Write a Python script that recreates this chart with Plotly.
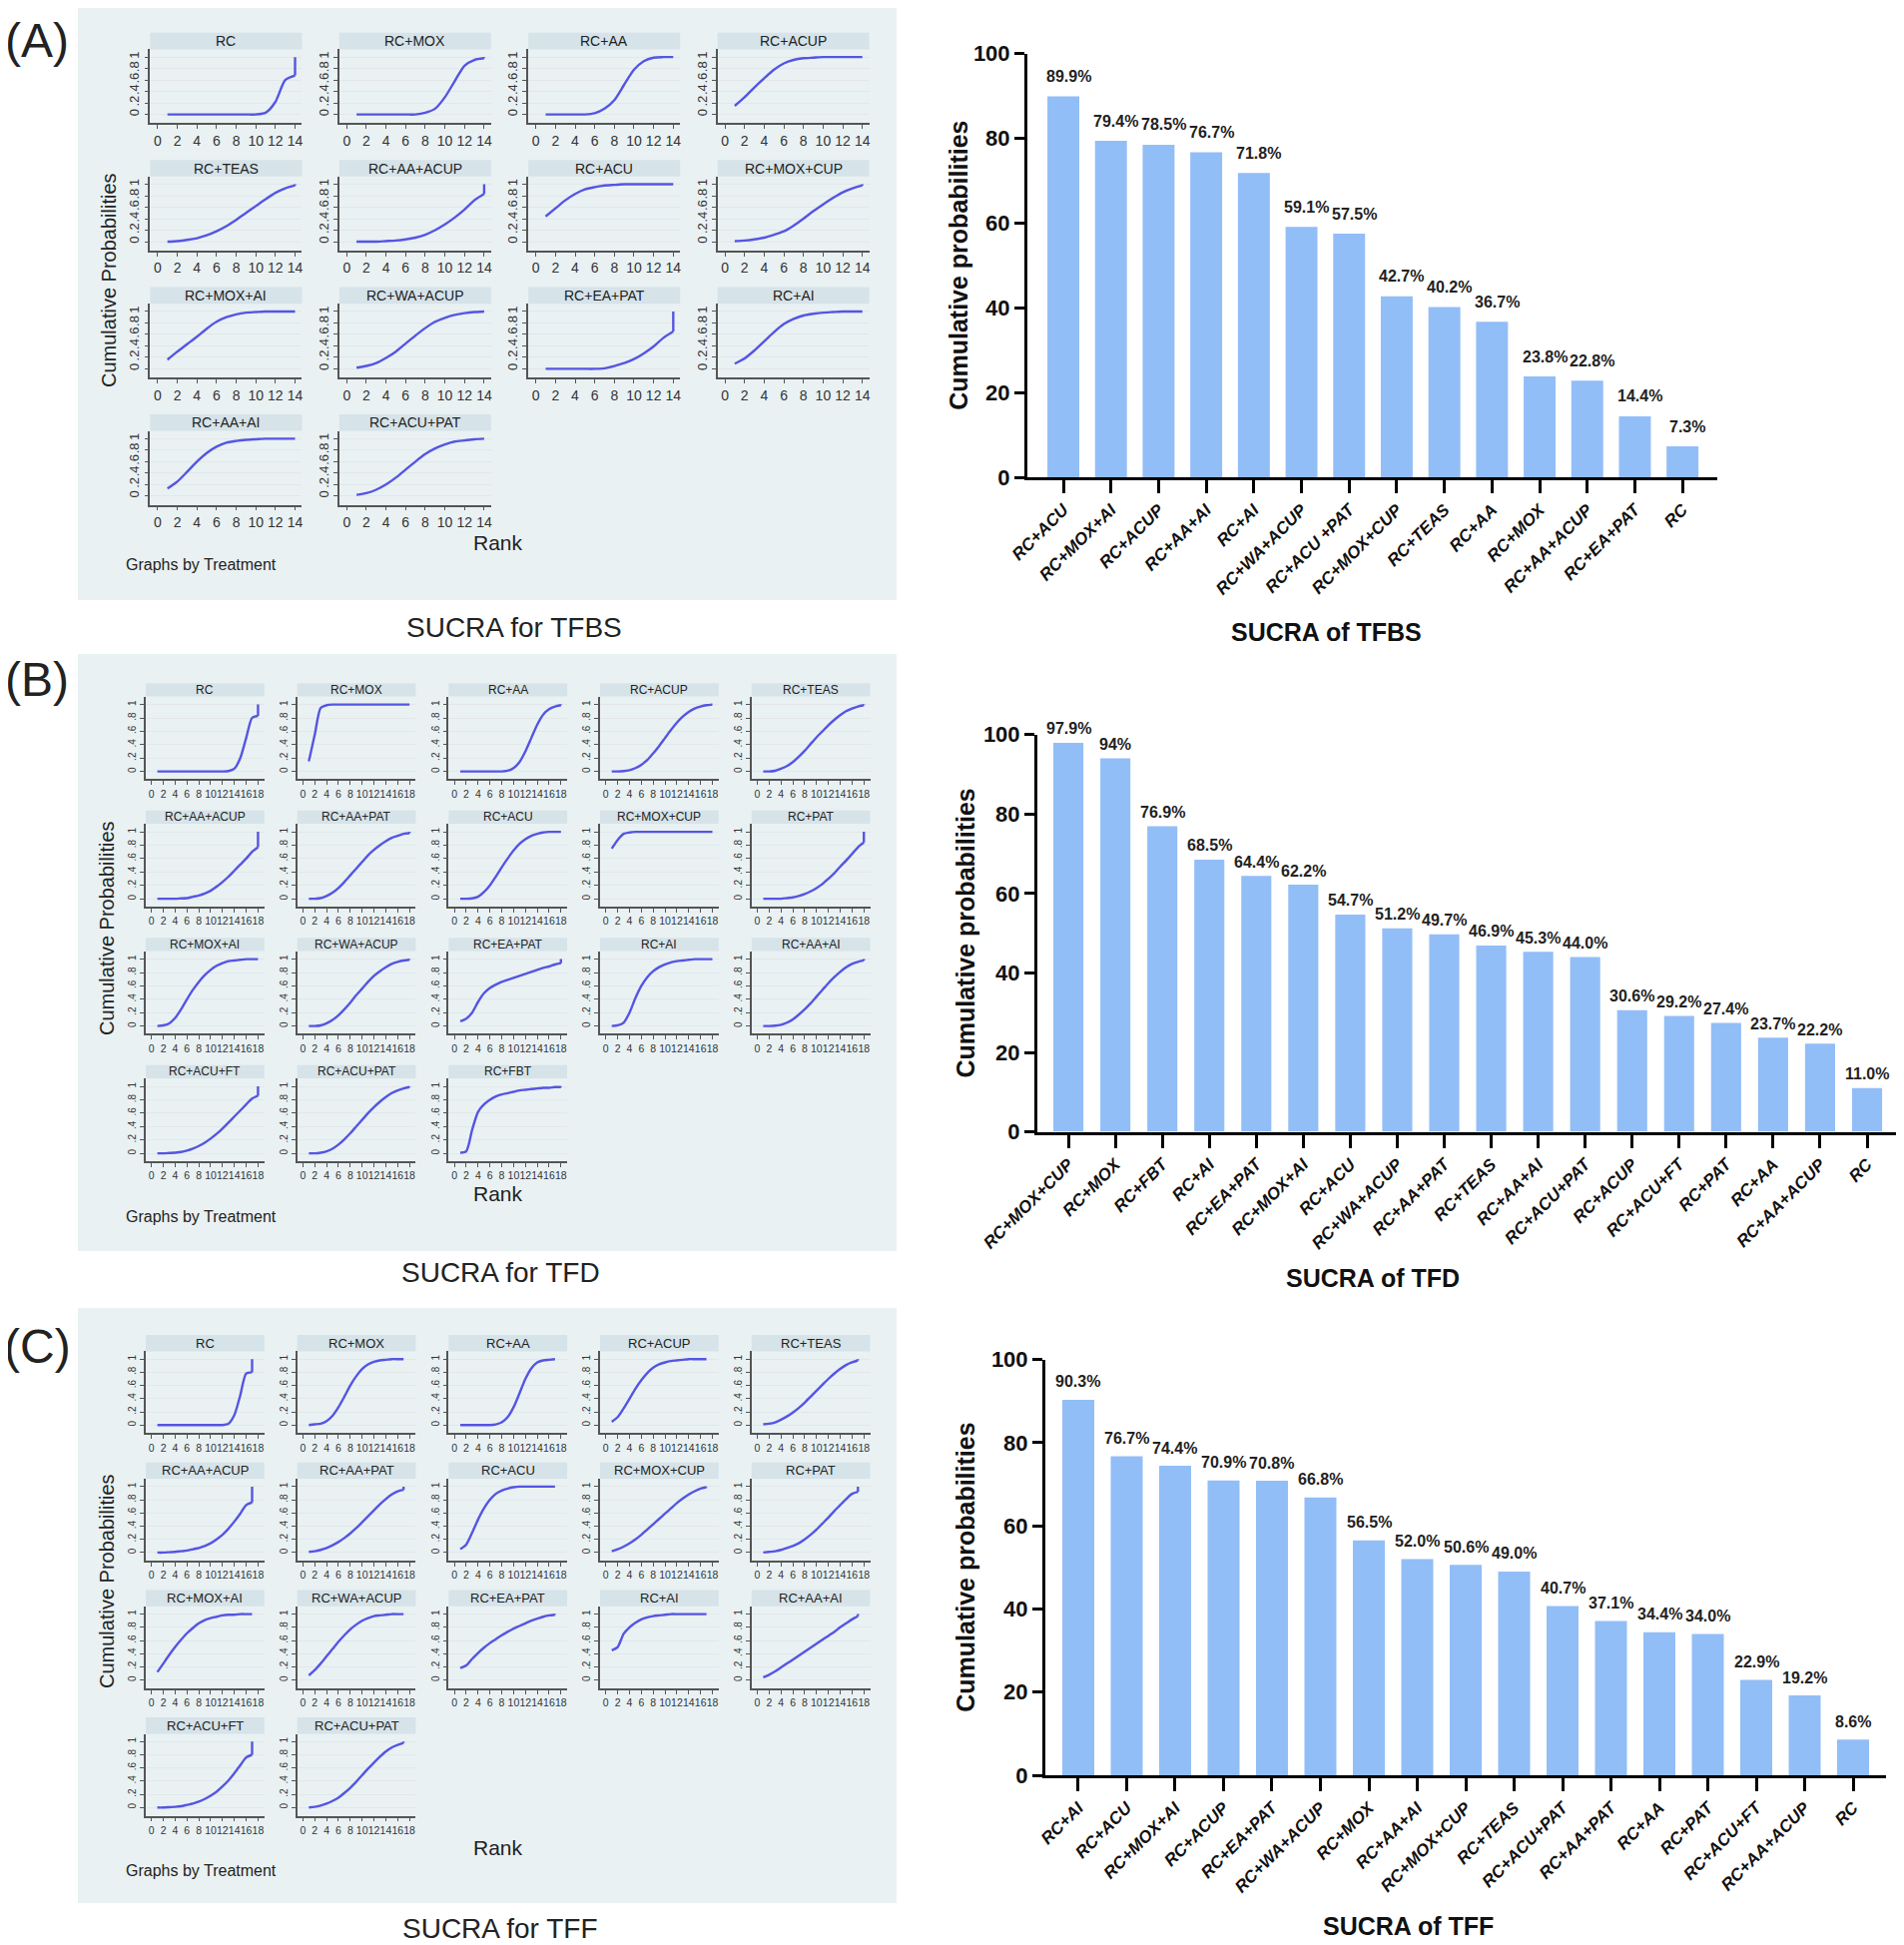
import plotly.graph_objects as go

W, H = 1907, 1948

# ---------------- DATA ----------------
ranks_tfbs = list(range(1, 15))
ranks_tfd = list(range(1, 19))
ranks_tff = list(range(1, 18))

# (A) TFBS cumulative ranking curves (rank 1..14)
tfbs_names = ["RC", "RC+MOX", "RC+AA", "RC+ACUP", "RC+TEAS", "RC+AA+ACUP", "RC+ACU",
              "RC+MOX+CUP", "RC+MOX+AI", "RC+WA+ACUP", "RC+EA+PAT", "RC+AI", "RC+AA+AI", "RC+ACU+PAT"]
tfbs_RC = [0, 0, 0, 0, 0, 0, 0, 0, 0, 0, 0.03, 0.22, 0.6, 0.68]
tfbs_MOX = [0, 0, 0, 0, 0, 0, 0, 0.03, 0.1, 0.3, 0.58, 0.85, 0.95, 0.98]
tfbs_AA = [0, 0, 0, 0, 0, 0.02, 0.1, 0.25, 0.52, 0.78, 0.93, 0.99, 1.0, 1.0]
tfbs_ACUP = [0.15, 0.3, 0.47, 0.63, 0.78, 0.89, 0.95, 0.98, 0.99, 1, 1, 1, 1, 1]
tfbs_TEAS = [0, 0.01, 0.03, 0.06, 0.11, 0.18, 0.27, 0.38, 0.5, 0.62, 0.74, 0.85, 0.93, 0.98]
tfbs_AA_ACUP = [0, 0, 0, 0.01, 0.02, 0.04, 0.07, 0.12, 0.2, 0.3, 0.42, 0.56, 0.72, 0.83]
tfbs_ACU = [0.44, 0.58, 0.72, 0.83, 0.91, 0.95, 0.98, 0.99, 1, 1, 1, 1, 1, 1]
tfbs_MOX_CUP = [0.01, 0.02, 0.04, 0.07, 0.12, 0.18, 0.28, 0.4, 0.53, 0.65, 0.76, 0.86, 0.93, 0.98]
tfbs_MOX_AI = [0.16, 0.3, 0.43, 0.56, 0.7, 0.82, 0.9, 0.95, 0.98, 0.99, 1, 1, 1, 1]
tfbs_WA_ACUP = [0.02, 0.05, 0.1, 0.19, 0.3, 0.44, 0.58, 0.71, 0.82, 0.89, 0.94, 0.97, 0.99, 1]
tfbs_EA_PAT = [0, 0, 0, 0, 0, 0, 0.01, 0.05, 0.1, 0.17, 0.27, 0.39, 0.54, 0.65]
tfbs_AI = [0.09, 0.18, 0.32, 0.48, 0.64, 0.78, 0.87, 0.93, 0.96, 0.98, 0.99, 1, 1, 1]
tfbs_AA_AI = [0.13, 0.25, 0.42, 0.6, 0.75, 0.86, 0.93, 0.96, 0.98, 0.99, 1, 1, 1, 1]
tfbs_ACU_PAT = [0.02, 0.05, 0.11, 0.2, 0.32, 0.46, 0.6, 0.73, 0.83, 0.9, 0.95, 0.97, 0.99, 1]

# (B) TFD cumulative ranking curves (rank 1..18)
tfd_names = ["RC", "RC+MOX", "RC+AA", "RC+ACUP", "RC+TEAS", "RC+AA+ACUP", "RC+AA+PAT", "RC+ACU",
             "RC+MOX+CUP", "RC+PAT", "RC+MOX+AI", "RC+WA+ACUP", "RC+EA+PAT", "RC+AI", "RC+AA+AI",
             "RC+ACU+FT", "RC+ACU+PAT", "RC+FBT"]
tfd_RC = [0, 0, 0, 0, 0, 0, 0, 0, 0, 0, 0, 0, 0.005, 0.04, 0.2, 0.5, 0.8, 0.83]
tfd_MOX = [0.15, 0.55, 0.95, 0.99, 1, 1, 1, 1, 1, 1, 1, 1, 1, 1, 1, 1, 1, 1]
tfd_AA = [0, 0, 0, 0, 0, 0, 0, 0, 0.01, 0.05, 0.14, 0.3, 0.5, 0.7, 0.85, 0.93, 0.97, 0.99]
tfd_ACUP = [0, 0, 0.005, 0.02, 0.05, 0.1, 0.17, 0.27, 0.38, 0.5, 0.62, 0.73, 0.82, 0.89, 0.94, 0.97, 0.99, 1.0]
tfd_TEAS = [0, 0, 0.01, 0.04, 0.08, 0.14, 0.22, 0.31, 0.41, 0.51, 0.6, 0.69, 0.77, 0.84, 0.9, 0.94, 0.97, 0.99]
tfd_AA_ACUP = [0, 0, 0, 0, 0.005, 0.01, 0.03, 0.05, 0.08, 0.12, 0.18, 0.25, 0.33, 0.42, 0.51, 0.6, 0.7, 0.77]
tfd_AA_PAT = [0, 0, 0.01, 0.04, 0.09, 0.16, 0.25, 0.35, 0.45, 0.55, 0.65, 0.73, 0.8, 0.86, 0.91, 0.94, 0.97, 0.98]
tfd_ACU = [0, 0, 0.005, 0.03, 0.1, 0.2, 0.33, 0.47, 0.6, 0.72, 0.82, 0.89, 0.94, 0.97, 0.99, 1, 1, 1]
tfd_MOX_CUP = [0.75, 0.88, 0.97, 0.99, 1, 1, 1, 1, 1, 1, 1, 1, 1, 1, 1, 1, 1, 1]
tfd_PAT = [0, 0, 0, 0, 0.01, 0.02, 0.04, 0.07, 0.11, 0.16, 0.22, 0.3, 0.38, 0.48, 0.57, 0.67, 0.77, 0.84]
tfd_MOX_AI = [0, 0.01, 0.04, 0.12, 0.25, 0.4, 0.54, 0.66, 0.76, 0.84, 0.9, 0.94, 0.97, 0.98, 0.99, 1, 1, 1]
tfd_WA_ACUP = [0, 0, 0.01, 0.04, 0.09, 0.16, 0.25, 0.35, 0.46, 0.56, 0.66, 0.75, 0.82, 0.88, 0.93, 0.96, 0.98, 0.99]
tfd_EA_PAT = [0.07, 0.11, 0.2, 0.36, 0.49, 0.57, 0.62, 0.66, 0.69, 0.72, 0.75, 0.78, 0.81, 0.84, 0.87, 0.89, 0.92, 0.94]
tfd_AI = [0, 0.01, 0.05, 0.2, 0.42, 0.6, 0.73, 0.82, 0.88, 0.92, 0.95, 0.97, 0.98, 0.99, 1, 1, 1, 1]
tfd_AA_AI = [0, 0, 0.005, 0.02, 0.05, 0.1, 0.17, 0.25, 0.34, 0.44, 0.54, 0.64, 0.73, 0.81, 0.88, 0.93, 0.96, 0.98]
tfd_ACU_FT = [0, 0, 0.005, 0.01, 0.02, 0.04, 0.07, 0.11, 0.16, 0.22, 0.29, 0.37, 0.46, 0.55, 0.64, 0.73, 0.82, 0.86]
tfd_ACU_PAT = [0, 0, 0.01, 0.03, 0.07, 0.13, 0.21, 0.3, 0.4, 0.5, 0.6, 0.69, 0.77, 0.84, 0.9, 0.94, 0.97, 0.99]
tfd_FBT = [0.01, 0.03, 0.35, 0.62, 0.73, 0.8, 0.85, 0.88, 0.9, 0.92, 0.94, 0.95, 0.96, 0.97, 0.98, 0.98, 0.99, 0.99]

# (C) TFF cumulative ranking curves (rank 1..17)
tff_names = ["RC", "RC+MOX", "RC+AA", "RC+ACUP", "RC+TEAS", "RC+AA+ACUP", "RC+AA+PAT", "RC+ACU",
             "RC+MOX+CUP", "RC+PAT", "RC+MOX+AI", "RC+WA+ACUP", "RC+EA+PAT", "RC+AI", "RC+AA+AI",
             "RC+ACU+FT", "RC+ACU+PAT"]
tff_RC = [0, 0, 0, 0, 0, 0, 0, 0, 0, 0, 0, 0, 0.02, 0.15, 0.45, 0.78, 0.8]
tff_MOX = [0, 0.01, 0.02, 0.06, 0.14, 0.27, 0.43, 0.6, 0.74, 0.85, 0.92, 0.96, 0.98, 0.99, 1, 1, 1]
tff_AA = [0, 0, 0, 0, 0, 0, 0.01, 0.04, 0.12, 0.27, 0.48, 0.7, 0.86, 0.95, 0.98, 0.99, 1]
tff_ACUP = [0.05, 0.12, 0.25, 0.4, 0.55, 0.68, 0.79, 0.87, 0.92, 0.95, 0.97, 0.98, 0.99, 1, 1, 1, 1]
tff_TEAS = [0.01, 0.02, 0.04, 0.08, 0.13, 0.19, 0.26, 0.34, 0.43, 0.52, 0.61, 0.7, 0.78, 0.85, 0.91, 0.95, 0.98]
tff_AA_ACUP = [0, 0, 0.005, 0.01, 0.02, 0.03, 0.05, 0.07, 0.1, 0.14, 0.2, 0.27, 0.36, 0.47, 0.59, 0.72, 0.76]
tff_AA_PAT = [0.01, 0.02, 0.04, 0.07, 0.11, 0.16, 0.22, 0.29, 0.37, 0.46, 0.55, 0.64, 0.73, 0.81, 0.88, 0.93, 0.95]
tff_ACU = [0.05, 0.12, 0.3, 0.5, 0.67, 0.8, 0.89, 0.94, 0.97, 0.99, 1, 1, 1, 1, 1, 1, 1]
tff_MOX_CUP = [0.02, 0.05, 0.09, 0.14, 0.2, 0.27, 0.35, 0.43, 0.51, 0.59, 0.67, 0.75, 0.82, 0.88, 0.93, 0.97, 0.99]
tff_PAT = [0, 0.01, 0.02, 0.04, 0.07, 0.1, 0.14, 0.2, 0.27, 0.35, 0.44, 0.53, 0.63, 0.72, 0.81, 0.89, 0.92]
tff_MOX_AI = [0.12, 0.25, 0.38, 0.5, 0.61, 0.71, 0.79, 0.86, 0.91, 0.94, 0.96, 0.98, 0.99, 0.99, 1, 1, 1]
tff_WA_ACUP = [0.07, 0.15, 0.25, 0.36, 0.47, 0.58, 0.68, 0.77, 0.84, 0.9, 0.94, 0.97, 0.98, 0.99, 1, 1, 1]
tff_EA_PAT = [0.18, 0.22, 0.32, 0.41, 0.49, 0.56, 0.62, 0.68, 0.73, 0.78, 0.82, 0.86, 0.9, 0.93, 0.96, 0.98, 0.99]
tff_AI = [0.45, 0.5, 0.7, 0.8, 0.87, 0.92, 0.95, 0.97, 0.98, 0.99, 1, 1, 1, 1, 1, 1, 1]
tff_AA_AI = [0.04, 0.08, 0.13, 0.19, 0.25, 0.31, 0.37, 0.43, 0.49, 0.55, 0.61, 0.67, 0.73, 0.8, 0.86, 0.92, 0.97]
tff_ACU_FT = [0, 0, 0.005, 0.01, 0.02, 0.04, 0.06, 0.09, 0.13, 0.18, 0.24, 0.32, 0.41, 0.52, 0.64, 0.76, 0.8]
tff_ACU_PAT = [0, 0.01, 0.03, 0.06, 0.1, 0.15, 0.22, 0.3, 0.39, 0.49, 0.59, 0.68, 0.77, 0.85, 0.91, 0.95, 0.98]

# SUCRA bar charts
tfbs_bar_labels = ["RC+ACU", "RC+MOX+AI", "RC+ACUP", "RC+AA+AI", "RC+AI", "RC+WA+ACUP", "RC+ACU +PAT",
                   "RC+MOX+CUP", "RC+TEAS", "RC+AA", "RC+MOX", "RC+AA+ACUP", "RC+EA+PAT", "RC"]
tfbs_sucra = ["89.9", "79.4", "78.5", "76.7", "71.8", "59.1", "57.5", "42.7", "40.2", "36.7",
              "23.8", "22.8", "14.4", "7.3"]

tfd_bar_labels = ["RC+MOX+CUP", "RC+MOX", "RC+FBT", "RC+AI", "RC+EA+PAT", "RC+MOX+AI", "RC+ACU",
                  "RC+WA+ACUP", "RC+AA+PAT", "RC+TEAS", "RC+AA+AI", "RC+ACU+PAT", "RC+ACUP",
                  "RC+ACU+FT", "RC+PAT", "RC+AA", "RC+AA+ACUP", "RC"]
tfd_sucra = ["97.9", "94", "76.9", "68.5", "64.4", "62.2", "54.7", "51.2", "49.7", "46.9", "45.3",
             "44.0", "30.6", "29.2", "27.4", "23.7", "22.2", "11.0"]

tff_bar_labels = ["RC+AI", "RC+ACU", "RC+MOX+AI", "RC+ACUP", "RC+EA+PAT", "RC+WA+ACUP", "RC+MOX",
                  "RC+AA+AI", "RC+MOX+CUP", "RC+TEAS", "RC+ACU+PAT", "RC+AA+PAT", "RC+AA", "RC+PAT",
                  "RC+ACU+FT", "RC+AA+ACUP", "RC"]
tff_sucra = ["90.3", "76.7", "74.4", "70.9", "70.8", "66.8", "56.5", "52.0", "50.6", "49.0", "40.7",
             "37.1", "34.4", "34.0", "22.9", "19.2", "8.6"]

y_ticks_small = [0, 0.2, 0.4, 0.6, 0.8, 1]
y_ticktext_small = ["0", ".2", ".4", ".6", ".8", "1"]
bar_y_ticks = [0, 20, 40, 60, 80, 100]

tfbs_curves = [tfbs_RC, tfbs_MOX, tfbs_AA, tfbs_ACUP, tfbs_TEAS, tfbs_AA_ACUP, tfbs_ACU, tfbs_MOX_CUP,
               tfbs_MOX_AI, tfbs_WA_ACUP, tfbs_EA_PAT, tfbs_AI, tfbs_AA_AI, tfbs_ACU_PAT]
tfd_curves = [tfd_RC, tfd_MOX, tfd_AA, tfd_ACUP, tfd_TEAS, tfd_AA_ACUP, tfd_AA_PAT, tfd_ACU, tfd_MOX_CUP,
              tfd_PAT, tfd_MOX_AI, tfd_WA_ACUP, tfd_EA_PAT, tfd_AI, tfd_AA_AI, tfd_ACU_FT, tfd_ACU_PAT, tfd_FBT]
tff_curves = [tff_RC, tff_MOX, tff_AA, tff_ACUP, tff_TEAS, tff_AA_ACUP, tff_AA_PAT, tff_ACU, tff_MOX_CUP,
              tff_PAT, tff_MOX_AI, tff_WA_ACUP, tff_EA_PAT, tff_AI, tff_AA_AI, tff_ACU_FT, tff_ACU_PAT]

# ---------------- STYLE ----------------
NARROW = "Liberation Sans Narrow, Arial Narrow, Liberation Sans, Arial, sans-serif"
SANS = "Liberation Sans, Arial, Helvetica, sans-serif"
BOX = "#E9F1F3"
STRIP = "#D6E3E9"
LINE = "#5555E2"
BAR = "#92BEF7"
AXC = "#555555"
GRID = "#E3E7E9"
OFF = 8  # compensates the page's default body margin

fig = go.Figure()
layout = {}
annotations = []
shapes = []
counter = [0]


def new_axes():
    counter[0] += 1
    n = counter[0]
    s = "" if n == 1 else str(n)
    return "xaxis" + s, "yaxis" + s, "x" + s, "y" + s


def px(x):
    return (x - OFF) / W


def py(y):
    return 1 - (y - OFF) / H


def small_multiples(names, curves, ranks, cfg):
    for i, (name, vals) in enumerate(zip(names, curves)):
        r, c = divmod(i, cfg["ncols"])
        x0 = cfg["col0"] + c * cfg["col_step"]
        x1 = x0 + cfg["col_w"]
        st = cfg["strip0"] + r * cfg["row_step"]
        sb = st + cfg["strip_h"]
        pb = sb + cfg["plot_h"]
        xa, ya, xr, yr = new_axes()
        layout[xa] = dict(domain=[px(x0), px(x1)], anchor=yr, range=cfg["xrange"], automargin=False,
                          tickmode="array", tickvals=cfg["xticks"], tickangle=0,
                          ticks="outside", ticklen=4, tickwidth=1, tickcolor=AXC,
                          showline=True, linecolor=AXC, linewidth=1.5, showgrid=False,
                          zeroline=False, tickfont=dict(family=NARROW, size=cfg["tick_fs"], color="#333"),
                          fixedrange=True)
        layout[ya] = dict(domain=[py(pb), py(sb)], anchor=xr, range=cfg["yrange"], automargin=False,
                          tickmode="array", tickvals=y_ticks_small, ticktext=y_ticktext_small,
                          tickangle=-90, ticks="outside", ticklen=4, tickwidth=1, tickcolor=AXC,
                          showline=True, linecolor=AXC, linewidth=1.5, showgrid=True,
                          gridcolor=GRID, gridwidth=1, zeroline=False,
                          tickfont=dict(family=NARROW, size=cfg["ytick_fs"], color="#333"),
                          fixedrange=True)
        fig.add_trace(go.Scatter(x=ranks, y=vals, mode="lines",
                                 line=dict(color=LINE, width=2.4, shape="spline", smoothing=0.7),
                                 xaxis=xr, yaxis=yr, showlegend=False, hoverinfo="skip"))
        if vals[-1] < 0.995:
            fig.add_trace(go.Scatter(x=[ranks[-1], ranks[-1]], y=[vals[-1], 1.0], mode="lines",
                                     line=dict(color=LINE, width=2.4),
                                     xaxis=xr, yaxis=yr, showlegend=False, hoverinfo="skip"))
        shapes.append(dict(type="rect", xref="paper", yref="paper", x0=px(x0), x1=px(x1),
                           y0=py(sb), y1=py(st), fillcolor=STRIP, line=dict(width=0), layer="below"))
        annotations.append(dict(text=name, xref="paper", yref="paper", x=px((x0 + x1) / 2),
                                y=py((st + sb) / 2), xanchor="center", yanchor="middle",
                                showarrow=False, font=dict(family=NARROW, size=cfg["strip_fs"], color="#222")))


def panel_frame(box, letter, letter_y, ylab_xy, rank_xy, graphs_xy, caption, caption_xy):
    x0, y0, x1, y1 = box
    shapes.append(dict(type="rect", xref="paper", yref="paper", x0=px(x0), x1=px(x1),
                       y0=py(y1), y1=py(y0), fillcolor=BOX, line=dict(width=0), layer="below"))
    annotations.append(dict(text=letter, xref="paper", yref="paper", x=px(37), y=py(letter_y),
                            xanchor="center", yanchor="middle", showarrow=False,
                            font=dict(family=SANS, size=48, color="#222")))
    annotations.append(dict(text="Cumulative Probabilities", xref="paper", yref="paper",
                            x=px(ylab_xy[0]), y=py(ylab_xy[1]), textangle=-90, xanchor="center",
                            yanchor="middle", showarrow=False, font=dict(family=SANS, size=20, color="#222")))
    annotations.append(dict(text="Rank", xref="paper", yref="paper", x=px(rank_xy[0]), y=py(rank_xy[1]),
                            xanchor="center", yanchor="middle", showarrow=False,
                            font=dict(family=SANS, size=21, color="#222")))
    annotations.append(dict(text="Graphs by Treatment", xref="paper", yref="paper", x=px(graphs_xy[0]),
                            y=py(graphs_xy[1]), xanchor="left", yanchor="middle", showarrow=False,
                            font=dict(family=NARROW, size=16, color="#222")))
    annotations.append(dict(text=caption, xref="paper", yref="paper", x=px(caption_xy[0]),
                            y=py(caption_xy[1]), xanchor="center", yanchor="middle", showarrow=False,
                            font=dict(family=SANS, size=28, color="#222")))


def bar_chart(labels, sucra, cfg):
    vals = [float(s) for s in sucra]
    xa, ya, xr, yr = new_axes()
    layout[xa] = dict(domain=[px(cfg["x0"]), px(cfg["x1"])], anchor=yr, type="category", automargin=False,
                      range=cfg["xrange"], tickangle=-45, ticks="outside", ticklen=13, tickwidth=2.5,
                      tickcolor="black", showline=True, linecolor="black", linewidth=3,
                      showgrid=False, zeroline=False,
                      tickfont=dict(family=SANS, size=17, color="#111", weight="bold", style="italic"),
                      fixedrange=True)
    layout[ya] = dict(domain=[py(cfg["y0"]), py(cfg["y100"])], anchor=xr, range=[0, 100], automargin=False,
                      tickmode="array", tickvals=bar_y_ticks, ticks="outside", ticklen=10,
                      tickwidth=2.5, tickcolor="black", showline=True, linecolor="black", linewidth=3,
                      showgrid=False, zeroline=False,
                      tickfont=dict(family=SANS, size=22, color="#111", weight="bold"), fixedrange=True)
    fig.add_trace(go.Bar(x=labels, y=vals, width=cfg["bw"], marker=dict(color=BAR, line=dict(width=0)),
                         xaxis=xr, yaxis=yr, showlegend=False, hoverinfo="skip"))
    for lab, s, v in zip(labels, sucra, vals):
        annotations.append(dict(text=s + "%", xref=xr, yref=yr, x=lab, y=v, xanchor="center",
                                yanchor="middle", yshift=cfg["lift"], xshift=cfg["xshift"], showarrow=False,
                                font=dict(family=SANS, size=16, color="#222", weight="bold")))
    annotations.append(dict(text="Cumulative probabilities", xref="paper", yref="paper",
                            x=px(cfg["ytitle_x"]), y=py((cfg["y0"] + cfg["y100"]) / 2), textangle=-90,
                            xanchor="center", yanchor="middle", showarrow=False,
                            font=dict(family=SANS, size=25, color="#111", weight="bold")))
    annotations.append(dict(text=cfg["title"], xref="paper", yref="paper", x=px(cfg["title_xy"][0]),
                            y=py(cfg["title_xy"][1]), xanchor="center", yanchor="middle", showarrow=False,
                            font=dict(family=SANS, size=25, color="#111", weight="bold")))


# ---------------- PANEL A ----------------
panel_frame((78, 4, 898, 601), "(A)", 40, (109, 281), (499, 544), (124, 566), "SUCRA for TFBS", (515, 628))
small_multiples(tfbs_names, tfbs_curves, ranks_tfbs,
                dict(ncols=4, col0=150.4, col_step=189.4, col_w=152, strip0=32.8, row_step=127.4,
                     strip_h=16.6, plot_h=74, xrange=[-0.76, 14.7], yrange=[-0.153, 1.135],
                     xticks=list(range(0, 15, 2)), tick_fs=14, ytick_fs=13, strip_fs=14))
bar_chart(tfbs_bar_labels, tfbs_sucra,
          dict(x0=1029, x1=1720, y0=478, y100=53.7, xrange=[-0.755, 13.73], bw=0.67, lift=20, xshift=5,
               ytitle_x=960, title="SUCRA of TFBS", title_xy=(1328, 633)))

# ---------------- PANEL B ----------------
panel_frame((78, 655, 898, 1253), "(B)", 680, (107, 930), (499, 1195), (124, 1218), "SUCRA for TFD", (501, 1274))
small_multiples(tfd_names, tfd_curves, ranks_tfd,
                dict(ncols=5, col0=146, col_step=151.7, col_w=118.7, strip0=684.2, row_step=127.5,
                     strip_h=13.3, plot_h=82.9, xrange=[-0.96, 19.06], yrange=[-0.116, 1.121],
                     xticks=list(range(0, 19, 2)), tick_fs=10.5, ytick_fs=10, strip_fs=12))
bar_chart(tfd_bar_labels, tfd_sucra,
          dict(x0=1039, x1=1902, y0=1133.6, y100=735.6, xrange=[-0.66, 17.68], bw=0.64, lift=14, xshift=0,
               ytitle_x=967, title="SUCRA of TFD", title_xy=(1375, 1280)))

# ---------------- PANEL C ----------------
panel_frame((78, 1310, 898, 1906), "(C)", 1348, (107, 1584), (499, 1850), (124, 1873), "SUCRA for TFF", (501, 1931))
small_multiples(tff_names, tff_curves, ranks_tff,
                dict(ncols=5, col0=146, col_step=151.7, col_w=118.7, strip0=1337, row_step=127.7,
                     strip_h=16.4, plot_h=82, xrange=[-0.96, 19.06], yrange=[-0.124, 1.118],
                     xticks=list(range(0, 19, 2)), tick_fs=10.5, ytick_fs=10, strip_fs=13))
bar_chart(tff_bar_labels, tff_sucra,
          dict(x0=1047, x1=1889, y0=1778, y100=1361.5, xrange=[-0.68, 16.68], bw=0.66, lift=18, xshift=0,
               ytitle_x=967, title="SUCRA of TFF", title_xy=(1410, 1929)))

fig.update_layout(width=W, height=H, margin=dict(l=0, r=0, t=0, b=0, pad=0, autoexpand=False),
                  paper_bgcolor="white", plot_bgcolor="white", showlegend=False,
                  annotations=annotations, shapes=shapes, font=dict(family=SANS), **layout)

fig.write_html("out.html")
